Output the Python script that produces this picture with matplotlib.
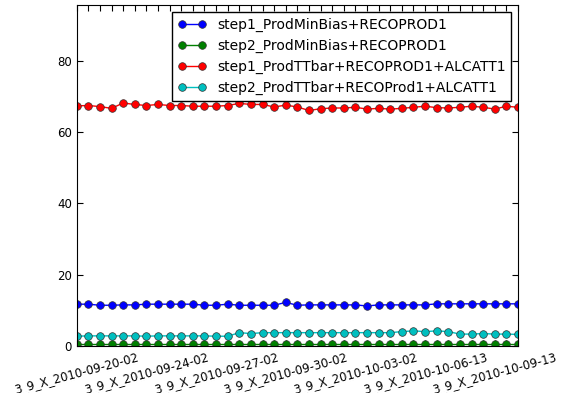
import matplotlib
matplotlib.use("Agg")
import matplotlib.pyplot as plt
import numpy as np

tick_labels = ["3_9_X_2010-09-20-02", "3_9_X_2010-09-24-02", "3_9_X_2010-09-27-02",
               "3_9_X_2010-09-30-02", "3_9_X_2010-10-03-02", "3_9_X_2010-10-06-13",
               "3_9_X_2010-10-09-13"]

step1_minbias = [11.7, 11.7, 11.4, 11.4, 11.5, 11.5, 11.7, 11.7, 11.7, 11.7, 11.7, 11.4, 11.4,
                 11.7, 11.4, 11.4, 11.4, 11.4, 12.2, 11.4, 11.5, 11.5, 11.5, 11.5, 11.5, 11.2,
                 11.5, 11.5, 11.5, 11.5, 11.5, 11.8, 11.8, 11.8, 11.8, 11.8, 11.8, 11.8, 11.8]
step2_minbias = [0.5] * 39
step1_ttbar = [67.4, 67.5, 67.2, 66.7, 68.2, 67.8, 67.5, 67.8, 67.5, 67.5, 67.3, 67.3, 67.3,
               67.5, 68.1, 67.8, 67.8, 67.1, 67.6, 67.1, 66.1, 66.6, 66.8, 66.8, 67.0, 66.5,
               66.7, 66.5, 66.7, 67.0, 67.3, 66.9, 66.8, 67.0, 67.3, 67.0, 66.5, 67.3, 67.0]
step2_ttbar = [2.7, 2.8, 2.8, 2.8, 2.8, 2.8, 2.7, 2.8, 2.8, 2.8, 2.8, 2.8, 2.7, 2.7, 3.7, 3.45,
               3.7, 3.7, 3.7, 3.7, 3.7, 3.7, 3.7, 3.7, 3.7, 3.7, 3.7, 3.7, 4.0, 4.2, 4.0, 4.2,
               4.0, 3.3, 3.3, 3.45, 3.3, 3.3, 3.2]

series = [
    ("step1_ProdMinBias+RECOPROD1", step1_minbias, (0, 0, 1)),
    ("step2_ProdMinBias+RECOPROD1", step2_minbias, (0, 0.5, 0)),
    ("step1_ProdTTbar+RECOPROD1+ALCATT1", step1_ttbar, (1, 0, 0)),
    ("step2_ProdTTbar+RECOProd1+ALCATT1", step2_ttbar, (0, 0.75, 0.75)),
]

fig = plt.figure(figsize=(5.68, 3.93), dpi=100)
ax = fig.add_axes([0.135, 0.12, 0.777, 0.867])
x = np.arange(len(step1_minbias))
for name, vals, col in series:
    ax.plot(x, vals, '-o', color=col, lw=1, ms=5.5, mec=(0.2, 0.2, 0.2), mew=0.5, label=name)

ax.set_xlim(0, len(x) - 1)
ax.set_ylim(0, 95.7)
ax.set_yticks([0, 20, 40, 60, 80])
ax.set_xticks(x)
labels = [""] * len(x)
for i, t in enumerate(tick_labels):
    labels[i * 6] = t
ax.set_xticklabels(labels, rotation=15, ha='center', fontsize=8.5)
ax.tick_params(axis='both', direction='in', top=True, right=True, length=4, labelsize=8.5)
for s in ax.spines.values():
    s.set_color('black')
leg = ax.legend(loc='upper right', numpoints=2, fontsize=10, fancybox=False,
                framealpha=1, edgecolor='black', borderaxespad=0.5, handlelength=2)
leg.get_frame().set_linewidth(1)
fig.savefig("out.png", dpi=100)
